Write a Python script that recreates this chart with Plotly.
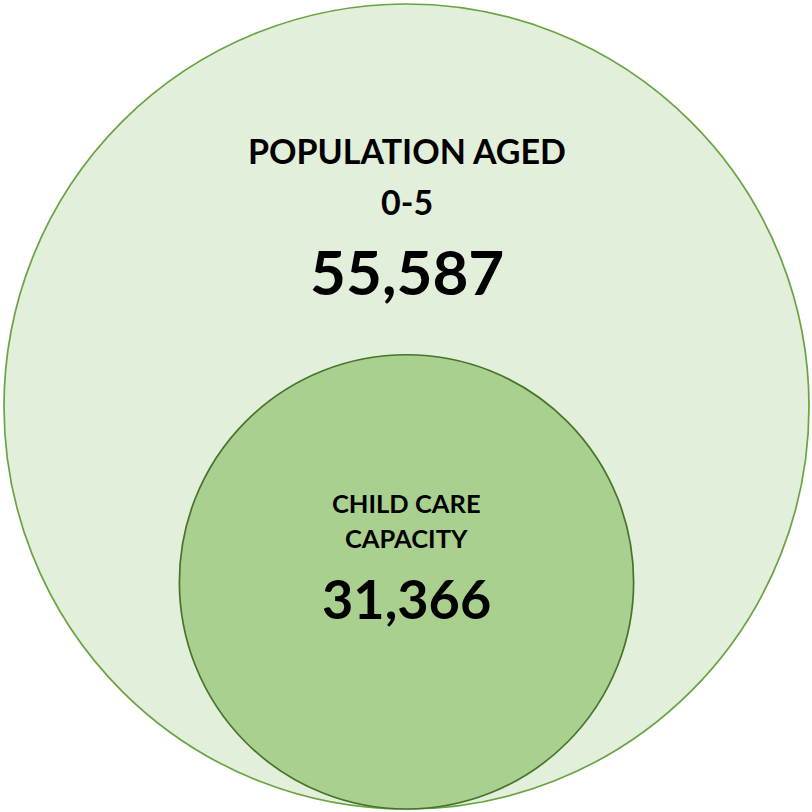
import plotly.graph_objects as go

outer_lines = ["POPULATION AGED", "0-5"]
inner_lines = ["CHILD CARE", "CAPACITY"]
values = [55587, 31366]
fills = ["#E2EFDA", "#A9D08E"]
lines = ["#6AA343", "#46742A"]

W = H = 812
left_px, right_px, top_px, bottom_px = 4, 809, 4, 809
s = (right_px - left_px) / values[0]  # px per unit
cx_px = (left_px + right_px) / 2

x_range = [-cx_px / s, (W - cx_px) / s]
y_range = [-(H - bottom_px) / s, values[0] + top_px / s]

fig = go.Figure()
for v, fc, lc in zip(values, fills, lines):
    fig.add_shape(type="circle", xref="x", yref="y",
                  x0=-v / 2, x1=v / 2, y0=0, y1=v,
                  fillcolor=fc, line=dict(color=lc, width=1.7), layer="above")

font = "Lato, 'Open Sans', sans-serif"

def py(px):
    return 1 - px / H

def label(text, ypx, size):
    fig.add_annotation(x=0, y=py(ypx), xref="x", yref="paper", text=f"<b>{text}</b>",
                       showarrow=False, font=dict(family=font, size=size, color="black"),
                       yanchor="middle")

label(outer_lines[0], 151, 34)
label(outer_lines[1], 202, 34)
label(f"{values[0]:,}", 271, 62)
label(inner_lines[0], 503, 25.5)
label(inner_lines[1], 538, 25.5)
label(f"{values[1]:,}", 598, 54)

fig.update_layout(width=W, height=H, margin=dict(l=0, r=0, t=0, b=0),
                  paper_bgcolor="white", plot_bgcolor="white", showlegend=False,
                  hovermode=False,
                  xaxis=dict(range=x_range, visible=False, fixedrange=True),
                  yaxis=dict(range=y_range, visible=False, fixedrange=True))
fig.write_html("out.html", config={"displayModeBar": False, "staticPlot": True},
               post_script="document.body.style.margin='0';document.body.style.padding='0';document.body.style.overflow='hidden';")
